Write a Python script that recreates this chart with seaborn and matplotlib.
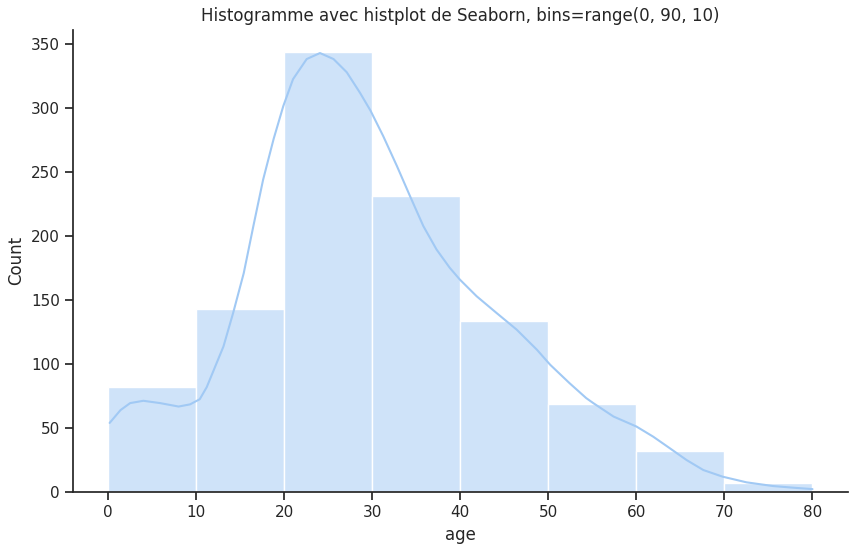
import matplotlib
matplotlib.use("Agg")
import matplotlib.pyplot as plt
import seaborn as sns

# Histogram counts (bins = range(0, 90, 10))
bin_edges = list(range(0, 90, 10))
bin_centers = [5, 15, 25, 35, 45, 55, 65, 75]
counts = [82, 143, 344, 231, 134, 69, 32, 7]

# KDE curve (scaled to counts)
kde_age = [0.17, 1.4, 2.5, 4.0, 5.9, 8.0, 9.3, 10.4, 11.2, 13.1, 14.2, 15.4, 16.5,
           17.6, 18.8, 19.9, 21.0, 22.55, 24.06, 25.6, 27.1, 28.6, 29.8, 31.25,
           32.8, 34.3, 35.8, 37.3, 38.8, 39.95, 41.85, 44.1, 46.4, 48.7, 50.2,
           52.4, 54.3, 55.1, 57.4, 60.0, 61.9, 63.8, 65.7, 67.6, 69.8, 72.5,
           75.5, 77.8, 80.0]
kde_count = [54, 64, 69.5, 71.3, 69.5, 66.8, 68.5, 72.5, 82, 113.8, 140, 171, 208,
             244, 276, 301.7, 322.6, 338.3, 343, 338.3, 328, 312, 298, 278,
             254.7, 231, 207.8, 189.5, 175.2, 166, 153, 140, 126.9, 111.2, 99.5,
             85.1, 73.4, 69.5, 59, 51.2, 43.3, 34.2, 25, 17.2, 12, 7.6,
             4.7, 3.4, 2.3]

sns.set_theme(style="ticks", palette="pastel")
color = sns.color_palette("pastel")[0]

fig, ax = plt.subplots(figsize=(8.58, 5.51), dpi=100)
sns.histplot(x=bin_centers, weights=counts, bins=bin_edges, color=color, alpha=0.5,
             edgecolor="white", ax=ax)
sns.lineplot(x=kde_age, y=kde_count, color=color, linewidth=1.5, ax=ax)
sns.despine()

ax.set_xticks(range(0, 90, 10))
ax.set_xlabel("age")
ax.set_ylabel("Count")
ax.set_title("Histogramme avec histplot de Seaborn, bins=range(0, 90, 10)")

fig.subplots_adjust(left=0.085, right=0.988, top=0.946, bottom=0.107)
fig.savefig("out.png", dpi=100)
